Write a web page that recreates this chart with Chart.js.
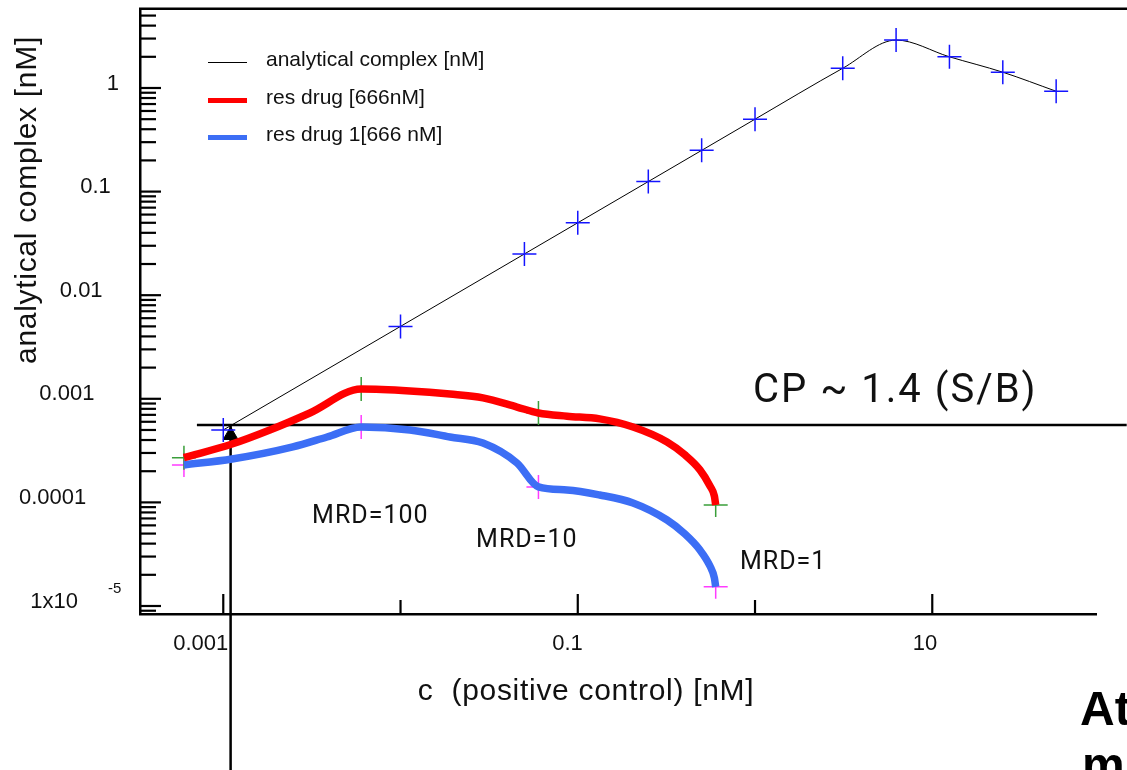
<!DOCTYPE html>
<html>
<head>
<meta charset="utf-8">
<script src="https://cdn.jsdelivr.net/npm/chart.js@4.4.1/dist/chart.umd.min.js"></script>
<style>
  html, body { margin: 0; padding: 0; background: #fff; }
  canvas { display: block; }
</style>
</head>
<body>
<canvas id="chart" width="1127" height="770"></canvas>
<script>
// values (log-log plot)
const cAnalytical = [0.001, 0.01, 0.05, 0.1, 0.25, 0.5, 1, 3.125, 6.25, 12.5, 25, 50]
const analyticalComplex = [0.0005, 0.005, 0.025, 0.05, 0.125, 0.25, 0.5, 1.55, 2.9, 2.0, 1.42, 0.93]

const cResDrug = [0.0006, 0.00112, 0.00183, 0.00308, 0.006, 0.0113, 0.019, 0.0292, 0.0454, 0.06, 0.087, 0.133, 0.205, 0.319, 0.4025, 0.489, 0.557, 0.59, 0.6]
const resDrug = [0.00027, 0.000366, 0.0005, 0.00073, 0.00124, 0.00119, 0.00111, 0.00102, 0.000833, 0.00073, 0.00068, 0.00064, 0.000534, 0.000383, 0.000287, 0.000206, 0.000144, 0.000115, 0.0000944]

const cResDrug1 = [0.0006, 0.00112, 0.00247, 0.00385, 0.006, 0.0113, 0.019, 0.0292, 0.0454, 0.06, 0.087, 0.133, 0.205, 0.319, 0.4025, 0.489, 0.557, 0.59, 0.6]
const resDrug1 = [0.00023, 0.000262, 0.000343, 0.000428, 0.000534, 0.0005, 0.000428, 0.000374, 0.00024, 0.000141, 0.000132, 0.000118, 0.0000987, 0.0000676, 0.0000495, 0.0000347, 0.0000243, 0.0000186, 0.0000153]

// MRD steps that carry a cross marker
const cMarked = [0.0006, 0.006, 0.06, 0.6]

// CP cut line and the LOD arrow
const cpLevel = 0.00056
const cpFrom = 0.00071
const cpTo = 125
const lodC = 0.0011
const lodBottom = 2.6e-7
const arrowY = 0.000445

const xTickValues = [0.001, 0.1, 10]
const xTickLabels = ["0.001", "0.1", "10"]
const yTickValues = [1, 0.1, 0.01, 0.001, 0.0001, 0.00001]
const yTickLabels = ["1", "0.1", "0.01", "0.001", "0.0001", "1x10"]
const yTickExp = ["", "", "", "", "", "-5"]

const cpText = "CP ~ 1.4 (S/B)"
const cpTextC = 0.974
const cpTextY = 0.000931
const mrdLabels = ["MRD=100", "MRD=10", "MRD=1"]
const mrdC = [0.00317, 0.0267, 0.822]
const mrdY = [0.0000633, 0.0000371, 0.0000228]

const SANS = "'Liberation Sans', Arial, sans-serif"

function pts(xs, ys) {
  return xs.map((x, i) => ({x: x, y: ys[i]}))
}
function marked(xs, ys) {
  return pts(xs, ys).filter(p => cMarked.includes(p.x))
}

// ticks, y labels, axis titles, frame, legend
const axisDecor = {
  id: "axisDecor",
  afterDraw(chart) {
    const {ctx, chartArea, scales: {x, y}} = chart
    ctx.save()
    ctx.strokeStyle = "#000"

    // top frame runs off the right edge
    ctx.lineWidth = 2.5
    ctx.beginPath()
    ctx.moveTo(chartArea.left - 1, chartArea.top - 1.3)
    ctx.lineTo(chart.width, chartArea.top - 1.3)
    ctx.stroke()

    // y ticks point inward, 2..9 minors
    ctx.lineWidth = 2.2
    for (let e = -6; e <= 1; e++) {
      for (let m = 1; m <= 9; m++) {
        const v = m * Math.pow(10, e)
        if (v < y.min || v > y.max) continue
        const py = y.getPixelForValue(v)
        const len = m === 1 ? 21 : 16
        ctx.beginPath()
        ctx.moveTo(chartArea.left, py)
        ctx.lineTo(chartArea.left + len, py)
        ctx.stroke()
      }
    }
    // x ticks only at decades, long/short alternating
    for (let e = -3; e <= 1; e++) {
      const px = x.getPixelForValue(Math.pow(10, e))
      const len = (e % 2 !== 0) ? 20 : 14
      ctx.beginPath()
      ctx.moveTo(px, chartArea.bottom)
      ctx.lineTo(px, chartArea.bottom - len)
      ctx.stroke()
    }

    // y tick labels, staggered like in the original
    ctx.fillStyle = "#111"
    ctx.textBaseline = "middle"
    ctx.textAlign = "right"
    yTickValues.forEach((v, k) => {
      const py = y.getPixelForValue(v) - 4.5
      const right = 119 - 8.2 * k
      ctx.font = "22px " + SANS
      ctx.fillText(yTickLabels[k], right, py)
      if (yTickExp[k]) {
        ctx.font = "15px " + SANS
        ctx.textAlign = "left"
        ctx.fillText(yTickExp[k], 108, py - 13)
        ctx.textAlign = "right"
      }
    })

    // axis titles
    ctx.font = "30px " + SANS
    ctx.letterSpacing = "0.7px"
    ctx.textAlign = "center"
    ctx.fillText("c  (positive control) [nM]", 586, 692)
    ctx.save()
    ctx.translate(28, 200)
    ctx.rotate(-Math.PI / 2)
    ctx.fillText("analytical complex [nM]", 0, 0)
    ctx.restore()
    ctx.letterSpacing = "0px"

    // legend from the first three datasets
    ctx.font = "21px " + SANS
    ctx.textAlign = "left"
    chart.data.datasets.slice(0, 3).forEach((ds, i) => {
      const ly = Math.round(62 + i * 37.5) + 0.5
      ctx.strokeStyle = ds.borderColor
      ctx.lineWidth = Math.min(ds.borderWidth, 5)
      ctx.beginPath()
      ctx.moveTo(208, ly)
      ctx.lineTo(247, ly)
      ctx.stroke()
      ctx.fillStyle = "#111"
      ctx.fillText(ds.label, 266, ly - 2.5)
    })

    // slide text cut off at the bottom right
    ctx.font = "bold 48px " + SANS
    ctx.fillStyle = "#000"
    ctx.fillText("At", 1080, 712)
    ctx.fillText("m", 1082, 768)
    ctx.restore()
  }
}

const notes = {
  id: "notes",
  afterDatasetsDraw(chart) {
    const {ctx, scales: {x, y}} = chart
    ctx.save()
    ctx.fillStyle = "#111"
    ctx.textAlign = "left"
    ctx.textBaseline = "alphabetic"
    ctx.font = "40px Roboto"
    ctx.letterSpacing = "2px"
    ctx.fillText(cpText, x.getPixelForValue(cpTextC), y.getPixelForValue(cpTextY))
    ctx.font = "25px Roboto"
    ctx.letterSpacing = "1px"
    mrdLabels.forEach((t, i) => {
      ctx.fillText(t, x.getPixelForValue(mrdC[i]), y.getPixelForValue(mrdY[i]))
    })
    ctx.restore()
  }
}

const ctx = document.getElementById("chart").getContext("2d")
new Chart(ctx, {
  type: "scatter",
  data: {
    datasets: [
      {
        label: "analytical complex [nM]",
        data: pts(cAnalytical, analyticalComplex),
        showLine: true,
        borderColor: "#000",
        borderWidth: 1,
        cubicInterpolationMode: "monotone",
        pointStyle: "cross",
        pointRadius: 12,
        pointBorderColor: "#1414ff",
        pointBorderWidth: 1.5
      },
      {
        label: "res drug [666nM]",
        data: pts(cResDrug, resDrug),
        showLine: true,
        borderColor: "#ff0000",
        borderWidth: 7.5,
        cubicInterpolationMode: "monotone",
        pointRadius: 0
      },
      {
        label: "res drug 1[666 nM]",
        data: pts(cResDrug1, resDrug1),
        showLine: true,
        borderColor: "#3c6ef5",
        borderWidth: 7.5,
        cubicInterpolationMode: "monotone",
        pointRadius: 0
      },
      {
        label: "res drug markers",
        data: marked(cResDrug, resDrug),
        pointStyle: "cross",
        pointRadius: 12,
        pointBorderColor: "#3a9e3a",
        pointBorderWidth: 1.5
      },
      {
        label: "res drug 1 markers",
        data: marked(cResDrug1, resDrug1),
        pointStyle: "cross",
        pointRadius: 12,
        pointBorderColor: "#ff3cff",
        pointBorderWidth: 1.5
      },
      {
        label: "CP",
        data: [{x: cpFrom, y: cpLevel}, {x: cpTo, y: cpLevel}],
        showLine: true,
        borderColor: "#000",
        borderWidth: 2.5,
        pointRadius: 0,
        clip: false
      },
      {
        label: "LOD",
        data: [{x: lodC, y: cpLevel}, {x: lodC, y: lodBottom}],
        showLine: true,
        borderColor: "#000",
        borderWidth: 2.5,
        pointRadius: 0,
        clip: false
      },
      {
        label: "arrow",
        data: [{x: lodC, y: arrowY}],
        pointStyle: "triangle",
        pointRadius: 8.5,
        pointBackgroundColor: "#000",
        pointBorderColor: "#000",
        pointBorderWidth: 1
      }
    ]
  },
  options: {
    responsive: false,
    animation: false,
    events: [],
    layout: { autoPadding: false, padding: { top: 10, right: 31, left: 0, bottom: 0 } },
    plugins: {
      legend: { display: false },
      tooltip: { enabled: false }
    },
    scales: {
      x: {
        type: "logarithmic",
        position: "bottom",
        bounds: "data",
        min: 0.000339,
        max: 83.9,
        afterFit: s => { s.height = 156; s.paddingLeft = 0; s.paddingRight = 0 },
        afterBuildTicks: s => { s.ticks = xTickValues.map(v => ({value: v})) },
        grid: { display: false, drawTicks: false },
        border: { display: true, color: "#000", width: 2.5 },
        ticks: {
          autoSkip: false,
          maxRotation: 0,
          align: "end",
          labelOffset: 5,
          padding: 17,
          color: "#111",
          font: { family: SANS, size: 22 },
          callback: (value, index) => xTickLabels[index]
        }
      },
      y: {
        type: "logarithmic",
        position: "left",
        bounds: "data",
        min: 0.00000837,
        max: 5.66,
        afterFit: s => { s.width = 140; s.paddingTop = 0; s.paddingBottom = 0 },
        afterBuildTicks: s => { s.ticks = yTickValues.map(v => ({value: v})) },
        grid: { display: false, drawTicks: false },
        border: { display: true, color: "#000", width: 2.5 },
        ticks: { display: false }
      }
    }
  },
  plugins: [axisDecor, notes]
})
</script>
</body>
</html>
